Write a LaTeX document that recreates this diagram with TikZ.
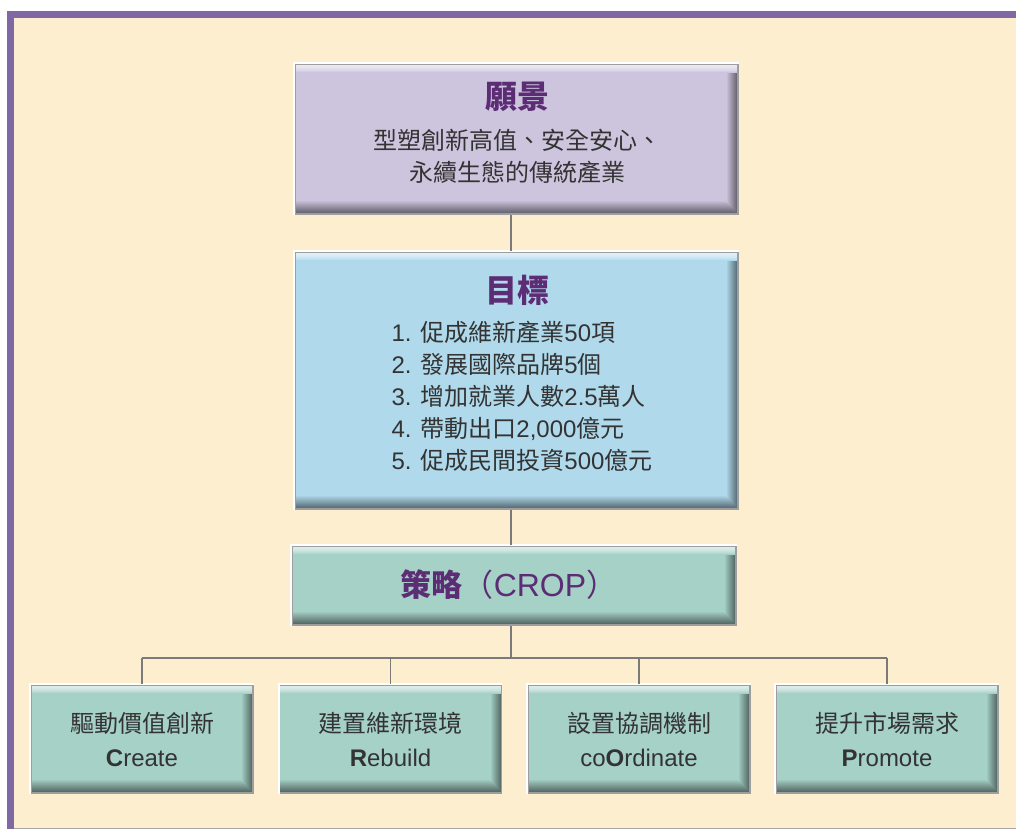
\documentclass[tikz,border=0pt]{standalone}
\usepackage{fontspec}
\setmainfont{Liberation Sans}
\newfontfamily\cjk{Noto Sans CJK TC}
\usetikzlibrary{calc}
\definecolor{cream}{HTML}{FDEED0}
\definecolor{framepurple}{HTML}{7F68A4}
\definecolor{vcol}{HTML}{CDC5DE}
\definecolor{gcol}{HTML}{B0D9EB}
\definecolor{scol}{HTML}{A6D1C7}
\definecolor{titlecol}{HTML}{5C2D75}
\definecolor{txtcol}{HTML}{333333}
\definecolor{linecol}{HTML}{7A7A7A}
\newcommand\zh[1]{{\cjk #1}}
\tikzset{
  bevel/.style={rectangle, fill=#1, draw=black!38, line width=1.5pt, inner sep=0pt,
    text=txtcol, align=center,
    path picture={
      \foreach \i in {0,...,11}{
        \pgfmathtruncatemacro\p{100-\i*50/11}
        \fill[#1!\p!black]
          ([xshift=-12pt+\i pt]path picture bounding box.north east) rectangle
          ([xshift=-10.8pt+\i pt]path picture bounding box.south east);
      }
      \foreach \i in {0,...,13}{
        \pgfmathtruncatemacro\p{100-\i*52/13}
        \fill[#1!\p!black]
          ([yshift=14pt-\i pt]path picture bounding box.south west) rectangle
          ([xshift=\i pt-13pt, yshift=12.8pt-\i pt]path picture bounding box.south east);
      }
      \foreach \i in {0,...,8}{
        \pgfmathtruncatemacro\p{40+\i*\i*60/64}
        \fill[#1!\p!white]
          ([yshift=-\i pt]path picture bounding box.north west) rectangle
          ([yshift=-\i pt-1.2pt]path picture bounding box.north east);
      }
    }},
  conn/.style={draw=linecol, line width=1.4pt},
  title/.style={text=titlecol, font=\fontsize{32}{38}\selectfont\bfseries\cjk},
  body/.style={text=txtcol, font=\fontsize{24}{32}\selectfont},
  leaf/.style={bevel=scol, minimum width=222pt, minimum height=108pt,
    font=\fontsize{24}{34}\selectfont},
}
\begin{document}
\begin{tikzpicture}[x=1pt,y=-1pt]
\useasboundingbox (0,0) rectangle (1016,830);
% frame
\fill[white] (0,0) rectangle (1016,830);
\fill[framepurple] (7,10.5) rectangle (1016,829);
\fill[cream] (14,18) rectangle (1016,828);
\draw[black!35, line width=1pt] (14,828.5) -- (1016,828.5);

% boxes
\node[bevel=vcol, minimum width=443pt, minimum height=150pt] (vision) at (516.5,139) {};
\node[bevel=gcol, minimum width=443pt, minimum height=257pt] (goal) at (516.5,380.5) {};
\node[bevel=scol, minimum width=444pt, minimum height=79pt] (strategy) at (514,585.5) {};
\node[leaf] (b1) at (142,739) {\zh{驅動價值創新}\\\textbf{C}reate};
\node[leaf] (b2) at (390.5,739) {\zh{建置維新環境}\\\textbf{R}ebuild};
\node[leaf] (b3) at (639,739) {\zh{設置協調機制}\\co\textbf{O}rdinate};
\node[leaf] (b4) at (887,739) {\zh{提升市場需求}\\\textbf{P}romote};

\foreach \n in {vision,goal,strategy,b1,b2,b3,b4}
  \draw[white, line width=2.2pt] (\n.south west) -- (\n.north west) -- (\n.north east);

% connectors
\coordinate (trunk) at (511,0);
\coordinate (bus) at (511,658);
\draw[conn] (vision.south -| trunk) -- (goal.north -| trunk);
\draw[conn] (goal.south -| trunk) -- (strategy.north -| trunk);
\draw[conn] (strategy.south -| trunk) -- (bus);
\draw[conn] (b1.north |- bus) -- (b4.north |- bus);
\foreach \b in {b1,b2,b3,b4}
  \draw[conn] (\b.north |- bus) -- (\b.north);

% texts
\node[title] (vtitle) at (517,97) {願景};
\node[body, align=center, font=\fontsize{24}{32}\selectfont\cjk] (vtext) at (517,156)
  {型塑創新高值、安全安心、\\永續生態的傳統產業};
\node[title] (gtitle) at (517,290) {目標};
\node[body, align=left, anchor=west] (gtext) at (388,396)
  {1. \zh{促成維新產業}50\zh{項}\\
   2. \zh{發展國際品牌}5\zh{個}\\
   3. \zh{增加就業人數}2.5\zh{萬人}\\
   4. \zh{帶動出口}2,000\zh{億元}\\
   5. \zh{促成民間投資}500\zh{億元}};
\node[text=titlecol, font=\fontsize{31}{38}\selectfont] (stitle) at (509,585)
  {{\bfseries\cjk 策略}{\cjk （}{\fontsize{32}{38}\selectfont CROP}{\cjk ）}};
\end{tikzpicture}
\end{document}
